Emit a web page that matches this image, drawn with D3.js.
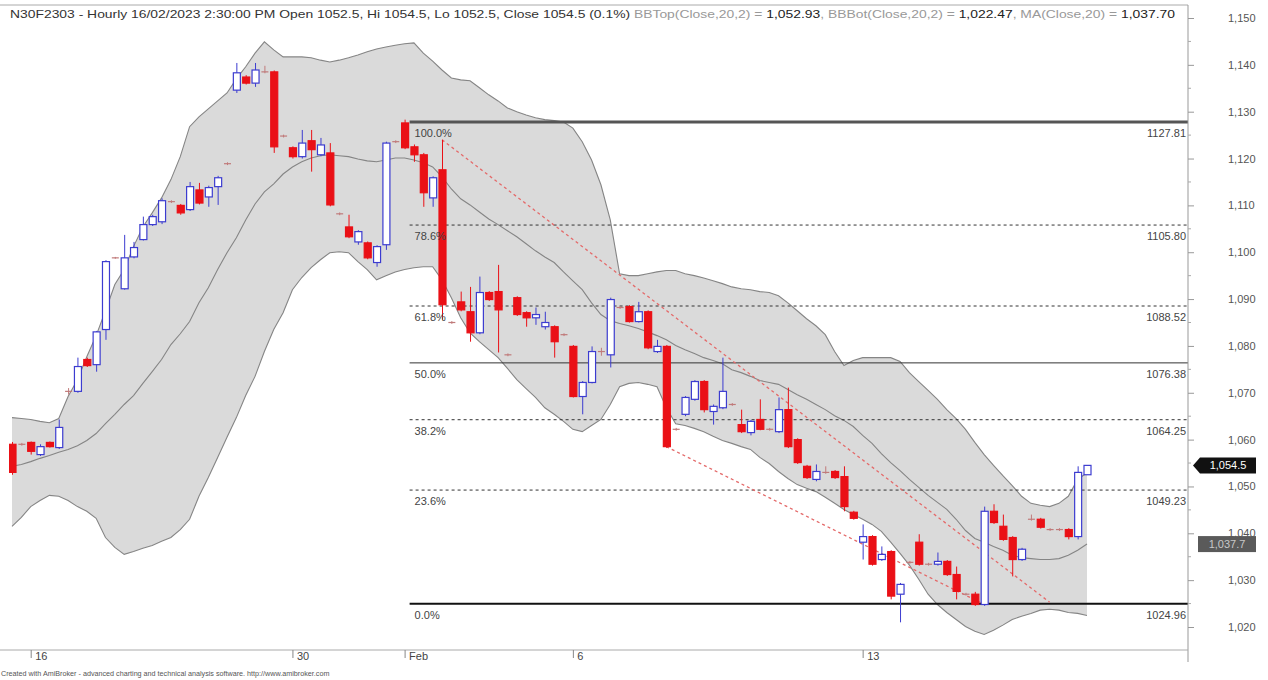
<!DOCTYPE html>
<html>
<head>
<meta charset="utf-8">
<script src="https://cdn.jsdelivr.net/npm/d3@7"></script>
<style>
  body { margin: 0; background: #fff; }
  text { font-family: "Liberation Sans", Arial, sans-serif; }
</style>
</head>
<body>
<div id="chart"></div>
<script>
// hourly bars, index 0..115
let tickIdx = [2, 30, 42, 60, 91];
let tickLabels = ["16", "30", "Feb", "6", "13"];

let open = [1059.0,1059.0,1059.4,1056.8,1059.4,1058.3,1070.3,1070.3,1077.1,1076.0,
  1083.5,1098.8,1092.2,1099.0,1102.7,1105.9,1106.5,1110.8,1110.0,1109.1,
  1113.3,1111.8,1114.0,1118.9,1134.6,1137.4,1136.1,1138.5,1138.5,1124.8,
  1122.3,1120.4,1123.8,1120.8,1121.2,1108.2,1105.4,1102.2,1102.0,1097.8,
  1101.6,1123.6,1127.6,1122.5,1120.8,1111.6,1117.6,1085.0,1089.4,1087.3,
  1082.8,1091.4,1091.6,1078.1,1090.3,1087.1,1086.0,1084.1,1084.1,1082.4,
  1079.9,1069.2,1072.2,1078.8,1078.1,1088.2,1088.4,1085.2,1087.3,1078.8,
  1079.9,1062.2,1065.4,1068.6,1072.4,1066.0,1066.8,1067.5,1063.2,1061.5,
  1064.3,1062.2,1061.7,1066.4,1060.0,1054.3,1051.5,1053.0,1053.2,1052.1,
  1044.5,1038.1,1039.3,1034.4,1036.1,1027.0,1033.8,1038.1,1033.4,1033.4,
  1034.0,1031.2,1027.0,1027.0,1024.8,1044.7,1041.5,1039.1,1034.4,1043.0,
  1043.0,1040.8,1040.8,1040.8,1039.3,1052.5];

let close = [1053.0,1059.0,1057.5,1058.5,1058.5,1062.6,1070.3,1075.6,1075.8,1083.0,
  1098.0,1098.8,1098.8,1101.0,1105.9,1107.6,1111.0,1110.8,1108.4,1114.0,
  1110.5,1113.8,1115.9,1118.9,1138.3,1136.1,1138.9,1138.5,1122.5,1124.8,
  1120.4,1123.3,1121.9,1122.9,1110.1,1108.2,1103.3,1104.4,1098.8,1101.2,
  1123.3,1123.6,1122.3,1120.8,1112.7,1115.9,1088.8,1085.0,1087.7,1082.8,
  1091.4,1089.9,1087.7,1078.1,1086.7,1086.0,1086.7,1085.0,1080.9,1082.4,
  1069.2,1072.2,1078.8,1078.8,1089.9,1088.2,1085.2,1087.3,1079.6,1079.9,
  1058.5,1062.2,1069.0,1072.4,1066.4,1067.1,1070.3,1067.5,1061.7,1063.9,
  1062.2,1062.2,1066.4,1058.5,1055.1,1051.9,1053.2,1053.0,1051.9,1045.7,
  1043.2,1039.3,1033.4,1035.5,1026.6,1029.1,1033.8,1033.4,1033.4,1034.0,
  1031.2,1027.6,1027.0,1024.8,1044.7,1042.3,1038.7,1034.4,1036.6,1043.0,
  1041.3,1040.8,1040.8,1039.3,1053.0,1054.5];

let high = [1059.5,1059.3,1059.6,1059.0,1059.6,1064.3,1071.0,1077.5,1077.5,1083.2,
  1098.3,1099.0,1103.7,1102.2,1107.6,1108.0,1111.5,1111.1,1110.3,1115.0,
  1114.8,1114.2,1116.3,1119.2,1140.4,1137.8,1140.4,1139.8,1138.8,1125.1,
  1122.6,1126.1,1126.1,1124.4,1123.3,1108.5,1108.0,1104.7,1102.3,1101.5,
  1123.6,1123.9,1128.3,1123.0,1121.2,1116.2,1124.0,1085.3,1091.6,1092.6,
  1094.8,1091.7,1097.3,1078.4,1090.6,1087.4,1088.2,1087.3,1084.4,1082.7,
  1080.2,1072.5,1079.9,1079.6,1090.3,1088.5,1088.7,1089.4,1087.6,1081.3,
  1080.2,1062.5,1069.3,1072.7,1072.7,1067.5,1077.5,1067.8,1066.4,1064.2,
  1068.6,1062.5,1069.0,1071.1,1060.3,1054.6,1054.7,1054.3,1053.5,1054.3,
  1044.8,1041.9,1039.6,1037.2,1036.4,1029.4,1034.1,1039.8,1033.7,1035.9,
  1034.3,1032.9,1027.3,1027.5,1045.7,1046.2,1044.0,1039.4,1036.9,1044.0,
  1043.3,1041.1,1041.1,1041.1,1054.3,1054.5];

let low = [1052.5,1058.7,1056.8,1056.5,1058.3,1058.0,1069.6,1070.0,1075.5,1074.5,
  1081.3,1098.6,1092.0,1098.7,1102.5,1105.6,1106.0,1110.5,1108.0,1108.8,
  1110.2,1109.7,1110.1,1118.6,1134.0,1135.8,1135.3,1138.2,1121.2,1124.5,
  1120.0,1120.0,1117.2,1120.5,1109.8,1107.9,1103.0,1101.6,1098.5,1096.9,
  1100.5,1123.3,1122.0,1119.3,1109.7,1109.7,1085.6,1084.7,1087.4,1080.9,
  1082.5,1089.6,1078.6,1077.8,1086.4,1084.1,1084.5,1083.5,1077.5,1082.1,
  1069.0,1065.4,1072.0,1077.9,1075.4,1087.9,1085.0,1085.0,1079.3,1078.5,
  1058.2,1061.9,1065.0,1068.3,1065.8,1063.2,1066.5,1067.2,1061.4,1060.9,
  1062.0,1061.9,1061.4,1058.2,1054.8,1051.6,1051.1,1052.7,1051.6,1044.7,
  1042.9,1034.4,1033.1,1034.1,1025.9,1021.0,1033.5,1033.1,1033.1,1033.1,
  1030.9,1025.9,1026.7,1024.5,1024.5,1042.0,1038.4,1030.8,1034.1,1042.7,
  1041.0,1040.5,1040.5,1038.7,1038.7,1052.5];

// Bollinger bands + MA(20)
let bbTop = [1064.7,1064.5,1064.3,1063.9,1063.6,1064.5,1069.2,1072.8,1077.7,1082.2,
  1087.5,1093.1,1096.3,1101.2,1105.4,1108.4,1111.6,1115.5,1120.4,1126.8,
  1128.9,1130.6,1132.3,1134.0,1137.0,1139.6,1142.5,1144.9,1143.2,1141.7,
  1141.7,1141.7,1141.5,1141.0,1140.6,1141.0,1141.5,1142.1,1142.8,1143.4,
  1143.8,1144.2,1144.5,1144.7,1142.5,1140.8,1138.9,1137.2,1136.8,1136.6,
  1135.1,1133.6,1132.3,1130.8,1130.0,1129.3,1128.7,1128.3,1128.1,1127.8,
  1126.5,1123.6,1119.7,1114.4,1106.9,1095.4,1095.0,1095.0,1095.4,1095.8,
  1096.1,1096.1,1095.4,1095.0,1094.5,1093.9,1093.3,1092.6,1092.2,1092.0,
  1091.6,1091.4,1090.7,1089.2,1087.5,1085.8,1084.3,1082.4,1078.8,1075.8,
  1076.9,1077.5,1077.5,1077.5,1077.5,1076.7,1074.3,1072.4,1070.5,1068.6,
  1066.4,1064.5,1062.2,1059.4,1056.8,1054.5,1052.3,1050.2,1047.9,1046.4,
  1046.0,1045.7,1046.4,1047.9,1051.5,1052.93];

let ma20 = [1054.3,1054.7,1055.3,1056.0,1056.6,1057.3,1057.9,1058.7,1059.8,1061.3,
  1063.4,1065.4,1067.5,1069.4,1072.0,1074.5,1077.1,1080.3,1082.6,1085.2,
  1089.2,1092.4,1096.3,1099.9,1103.1,1106.9,1110.3,1112.9,1114.6,1116.7,
  1118.2,1119.3,1120.1,1120.6,1120.8,1120.6,1120.4,1119.9,1119.5,1119.3,
  1119.7,1120.1,1120.1,1119.7,1119.1,1118.2,1116.1,1113.5,1111.4,1110.1,
  1108.6,1107.1,1105.9,1104.6,1103.3,1101.8,1100.3,1099.0,1097.8,1095.8,
  1093.9,1092.0,1089.2,1086.7,1085.4,1084.8,1084.3,1083.7,1083.0,1082.2,
  1081.3,1080.1,1079.2,1078.4,1077.5,1076.9,1076.2,1074.9,1074.3,1073.5,
  1072.6,1072.2,1071.8,1070.7,1069.6,1068.6,1067.5,1066.4,1065.1,1064.1,
  1062.8,1060.9,1059.2,1057.0,1055.1,1053.4,1051.5,1049.8,1048.1,1046.6,
  1045.1,1043.0,1040.6,1038.9,1038.1,1037.2,1036.4,1035.3,1034.8,1034.6,
  1034.4,1034.4,1034.6,1035.3,1036.4,1037.70];

let bbBot = [1041.5,1043.4,1045.7,1047.0,1048.1,1047.9,1047.0,1045.7,1044.7,1043.2,
  1039.1,1037.0,1035.5,1036.1,1036.8,1037.4,1038.3,1039.1,1040.8,1043.0,
  1047.9,1051.9,1056.2,1060.5,1064.7,1069.4,1073.5,1078.8,1083.5,1087.1,
  1092.0,1094.6,1096.7,1098.4,1099.9,1100.1,1099.9,1098.0,1096.3,1094.1,
  1095.0,1095.8,1096.3,1096.7,1096.9,1096.9,1094.1,1090.3,1086.0,1082.8,
  1080.9,1079.2,1077.5,1075.2,1072.8,1070.9,1069.0,1066.8,1065.4,1063.9,
  1062.2,1061.7,1063.0,1064.3,1067.5,1071.3,1072.0,1072.2,1071.8,1071.3,
  1066.8,1063.4,1063.0,1062.4,1061.7,1060.7,1059.8,1059.2,1058.5,1057.9,
  1056.2,1054.9,1053.2,1051.7,1050.4,1049.6,1048.9,1047.7,1046.4,1045.1,
  1044.0,1043.0,1041.9,1040.4,1038.1,1035.7,1033.2,1030.2,1027.0,1024.8,
  1023.1,1021.6,1020.1,1019.1,1018.4,1019.3,1020.4,1021.6,1022.3,1022.9,
  1023.6,1023.8,1023.6,1023.1,1022.9,1022.47];

// fibonacci retracement
let fibPct = ["100.0%", "78.6%", "61.8%", "50.0%", "38.2%", "23.6%", "0.0%"];
let fibVal = [1127.81, 1105.80, 1088.52, 1076.38, 1064.25, 1049.23, 1024.96];
let fibStyle = ["thick", "dash", "dash", "solid", "dash", "dash", "bold"];
let fibStart = 42;

// red dotted channel lines [startIdx, startPrice, endIdx, endPrice]
let trendLines = [[46, 1124.0, 111, 1025.3], [70, 1058.5, 104, 1024.8]];

let yTicks = [1020, 1030, 1040, 1050, 1060, 1070, 1080, 1090, 1100, 1110, 1120, 1130, 1140, 1150];

let svgWidth = 1268;
let svgHeight = 680;
let plotLeft = 9, plotRight = 1188, plotTop = 5, plotBottom = 650;

let svg = d3.select("#chart").append("svg")
  .attr("width", svgWidth)
  .attr("height", svgHeight);

let x = d3.scaleLinear().domain([0, 115]).range([12, 1087]);
let y = d3.scaleLinear().domain([1020, 1150]).range([627, 18]);

svg.append("clipPath").attr("id", "plot")
  .append("rect")
  .attr("x", plotLeft).attr("y", plotTop)
  .attr("width", plotRight - plotLeft).attr("height", plotBottom - plotTop);

let chartGroup = svg.append("g").attr("clip-path", "url(#plot)");

let idx = d3.range(open.length);

// bollinger band
chartGroup.append("path")
  .datum(idx)
  .attr("fill", "#dadada")
  .attr("d", d3.area().x(i => x(i)).y0(i => y(bbBot[i])).y1(i => y(bbTop[i])));

[bbTop, bbBot, ma20].forEach(function(series) {
  chartGroup.append("path")
    .datum(idx)
    .attr("fill", "none")
    .attr("stroke", "#858585")
    .attr("stroke-width", 1.1)
    .attr("d", d3.line().x(i => x(i)).y(i => y(series[i])));
});

// fib levels
fibVal.forEach(function(v, k) {
  let st = fibStyle[k];
  chartGroup.append("line")
    .attr("x1", x(fibStart) + 5).attr("x2", plotRight)
    .attr("y1", y(v)).attr("y2", y(v))
    .attr("stroke", st === "thick" ? "#555" : st === "bold" ? "#111" : "#333")
    .attr("stroke-width", st === "thick" ? 3 : st === "bold" ? 2 : 1)
    .attr("stroke-dasharray", st === "dash" ? "3,3" : null);

  svg.append("text")
    .attr("x", x(fibStart) + 10).attr("y", y(v) + 15)
    .attr("font-size", "11px").attr("fill", "#444")
    .text(fibPct[k]);

  svg.append("text")
    .attr("x", plotRight - 2).attr("y", y(v) + 15)
    .attr("text-anchor", "end")
    .attr("font-size", "11px").attr("fill", "#444")
    .text(v.toFixed(2));
});

// channel lines
trendLines.forEach(function(t) {
  chartGroup.append("line")
    .attr("x1", x(t[0])).attr("y1", y(t[1]))
    .attr("x2", x(t[2])).attr("y2", y(t[3]))
    .attr("stroke", "#e46a6a")
    .attr("stroke-width", 1.3)
    .attr("stroke-dasharray", "3,3");
});

// candles
let blue = "#3c3cd0", red = "#ea1016";
let candles = chartGroup.selectAll(".candle")
  .data(idx)
  .enter()
  .append("g")
  .attr("class", "candle");

candles.append("line")
  .attr("x1", i => x(i) + 0.5).attr("x2", i => x(i) + 0.5)
  .attr("y1", i => y(high[i])).attr("y2", i => y(low[i]))
  .attr("stroke", i => close[i] > open[i] ? blue : close[i] < open[i] ? red : "#c07a7a")
  .attr("stroke-width", 1);

candles.filter(i => close[i] !== open[i])
  .append("rect")
  .attr("x", i => x(i) - 3)
  .attr("y", i => y(Math.max(open[i], close[i])))
  .attr("width", 7)
  .attr("height", i => Math.max(1, Math.abs(y(open[i]) - y(close[i]))))
  .attr("fill", i => close[i] > open[i] ? "#fff" : red)
  .attr("stroke", i => close[i] > open[i] ? blue : red)
  .attr("stroke-width", 1.2);

candles.filter(i => close[i] === open[i])
  .append("line")
  .attr("x1", i => x(i) - 3).attr("x2", i => x(i) + 4)
  .attr("y1", i => y(open[i])).attr("y2", i => y(open[i]))
  .attr("stroke", "#c07a7a")
  .attr("stroke-width", 1.2);

// frame
svg.append("line").attr("x1", 0).attr("x2", plotRight).attr("y1", plotTop).attr("y2", plotTop)
  .attr("stroke", "#aaa");
svg.append("line").attr("x1", plotRight).attr("x2", plotRight).attr("y1", plotTop).attr("y2", 662)
  .attr("stroke", "#999");
svg.append("line").attr("x1", 0).attr("x2", plotRight).attr("y1", plotBottom).attr("y2", plotBottom)
  .attr("stroke", "#aaa");

// right price axis
let rightAxis = d3.axisRight(y)
  .tickValues(yTicks)
  .tickSize(6)
  .tickFormat(d3.format(",.0f"));

let axisG = svg.append("g")
  .attr("transform", `translate(${plotRight}, 0)`)
  .call(rightAxis);
axisG.select(".domain").remove();
axisG.selectAll("line").attr("stroke", "#999");
axisG.selectAll("text")
  .attr("x", 40)
  .attr("font-size", "11px")
  .attr("fill", "#555")
  .attr("font-family", "Liberation Sans, Arial, sans-serif");

// minor ticks
svg.selectAll(".minor")
  .data(yTicks.slice(0, -1))
  .enter()
  .append("line")
  .attr("x1", plotRight).attr("x2", plotRight + 3)
  .attr("y1", d => y(d + 5)).attr("y2", d => y(d + 5))
  .attr("stroke", "#aaa");

// date axis
let bottomAxis = d3.axisBottom(x)
  .tickValues(tickIdx)
  .tickSize(8)
  .tickFormat((d, k) => tickLabels[k]);

let xAxisG = svg.append("g")
  .attr("transform", `translate(0, ${plotBottom})`)
  .call(bottomAxis);
xAxisG.select(".domain").remove();
xAxisG.selectAll("line").attr("stroke", "#888");
xAxisG.selectAll("text")
  .attr("text-anchor", "start")
  .attr("x", 4)
  .attr("y", 2)
  .attr("font-size", "11px")
  .attr("fill", "#444")
  .attr("font-family", "Liberation Sans, Arial, sans-serif");

// last price tag
let last = close[close.length - 1];
let ly = y(last);
svg.append("path")
  .attr("d", `M${plotRight + 5},${ly} L${plotRight + 12},${ly - 8} L${plotRight + 68},${ly - 8} L${plotRight + 68},${ly + 8} L${plotRight + 12},${ly + 8} Z`)
  .attr("fill", "#111");
svg.append("text")
  .attr("x", plotRight + 40).attr("y", ly + 4)
  .attr("text-anchor", "middle")
  .attr("font-size", "11px").attr("fill", "#fff")
  .text(d3.format(",.1f")(last));

// MA tag
let lastMa = ma20[ma20.length - 1];
let my = y(lastMa);
svg.append("rect")
  .attr("x", plotRight + 10).attr("y", my - 8)
  .attr("width", 58).attr("height", 16)
  .attr("fill", "#5a5a5a");
svg.append("text")
  .attr("x", plotRight + 39).attr("y", my + 4)
  .attr("text-anchor", "middle")
  .attr("font-size", "11px").attr("fill", "#c8c8c8")
  .text(d3.format(",.1f")(lastMa));

// title line
let title = svg.append("text")
  .attr("x", 10).attr("y", 18)
  .attr("font-size", "11px");
let parts = [
  ["N30F2303 - Hourly 16/02/2023 2:30:00 PM Open 1052.5, Hi 1054.5, Lo 1052.5, Close 1054.5 (0.1%) ", "#333"],
  ["BBTop(Close,20,2) = ", "#999"],
  [d3.format(",.2f")(bbTop[bbTop.length - 1]), "#222"],
  [", BBBot(Close,20,2) = ", "#999"],
  [d3.format(",.2f")(bbBot[bbBot.length - 1]), "#222"],
  [", MA(Close,20) = ", "#999"],
  [d3.format(",.2f")(lastMa), "#222"]
];
parts.forEach(function(p) {
  title.append("tspan").attr("fill", p[1]).text(p[0]);
});
title.attr("textLength", 1165).attr("lengthAdjust", "spacingAndGlyphs");

// footer
svg.append("text")
  .attr("x", 1).attr("y", 676)
  .attr("font-size", "7.2px")
  .attr("fill", "#555")
  .text("Created with AmiBroker - advanced charting and technical analysis software. http://www.amibroker.com");
</script>
</body>
</html>
